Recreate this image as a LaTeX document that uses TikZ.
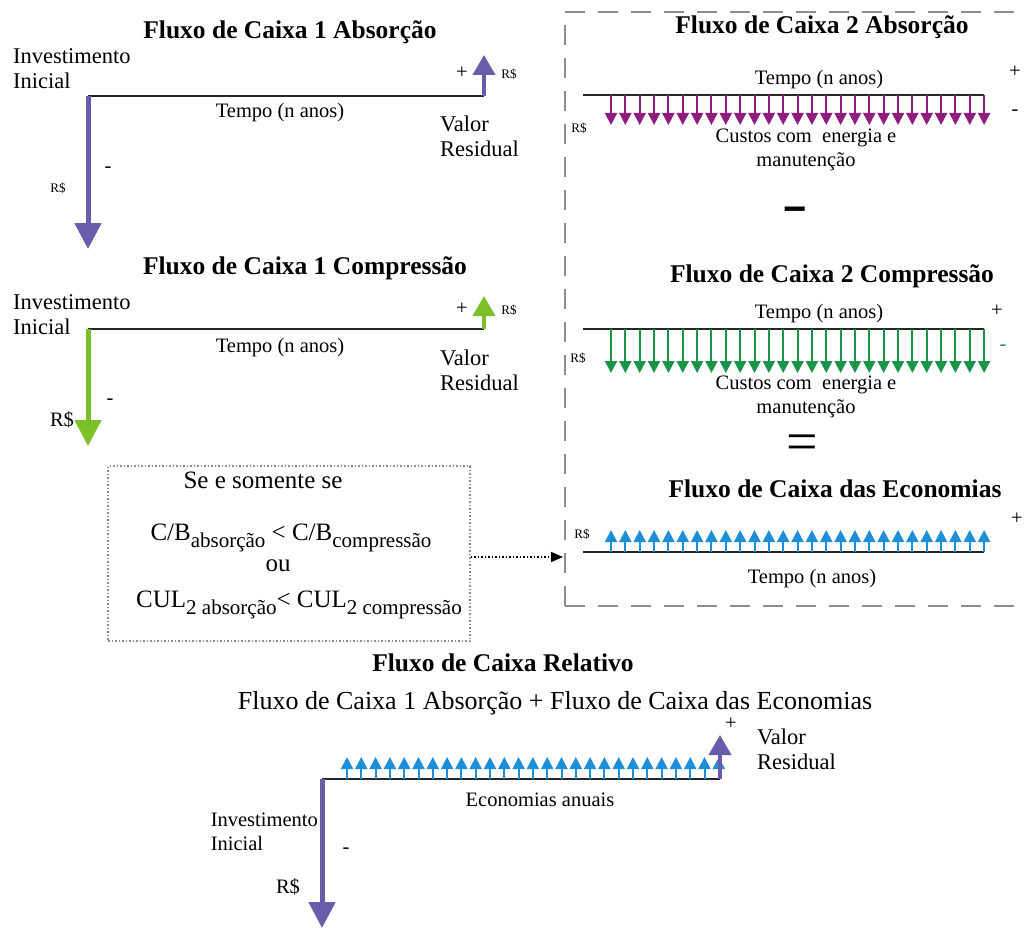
\documentclass[tikz,border=0pt]{standalone}
\usepackage{fontspec}
\setmainfont{Liberation Serif}
\newfontfamily\sansbold{Liberation Sans}
\usetikzlibrary{arrows.meta, positioning}

\definecolor{roxo}{HTML}{6A5CA8}
\definecolor{verdeclaro}{HTML}{7BBF2A}
\definecolor{magentaescuro}{HTML}{8F1D7F}
\definecolor{verdeescuro}{HTML}{1A9448}
\definecolor{azul}{HTML}{1D8FD8}
\definecolor{tracejado}{HTML}{8C8C8C}

\newcommand{\subtxt}[1]{\raisebox{-7pt}{\fontsize{21}{21}\selectfont #1}}

\tikzset{
  titulo/.style={font=\fontsize{25.5}{28}\selectfont\bfseries, inner sep=0pt},
  rotulo/.style={font=\fontsize{22.5}{25}\selectfont, align=left, inner sep=0pt},
  tempo/.style={font=\fontsize{20.5}{24}\selectfont, align=center, inner sep=0pt},
  caixatexto/.style={font=\fontsize{25}{28}\selectfont, inner sep=0pt},
  miudo/.style={font=\fontsize{13}{15}\selectfont, inner sep=0pt},
  eixo/.style={line width=2pt, draw=black!85},
  invest/.style={line width=5pt, -{Triangle[width=26pt,length=26pt]}},
  residual/.style={line width=4pt, -{Triangle[width=22pt,length=20pt]}},
  barra/.style={line width=2pt, -{Triangle[width=12pt,length=12pt]}},
}

\begin{document}
\begin{tikzpicture}[x=1pt, y=-1pt]
\useasboundingbox (0,0) rectangle (1027,928);

% caixa tracejada dos fluxos 2
\draw[tracejado, line width=2pt, dash pattern=on 20pt off 13pt] (565,606) -- (565,12) -- (1050,12);
\draw[tracejado, line width=2pt, dash pattern=on 20pt off 13pt] (565,606) -- (1050,606);

% Fluxo de Caixa 1 Absorcao
\node[titulo] (tit1) at (290,32) {Fluxo de Caixa 1 Absorção};
\coordinate (o1) at (88,96);
\coordinate (f1) at (484,96);
\coordinate (inv1) at (88,249);
\coordinate (res1) at (484,55);
\draw[eixo] (o1) -- (f1);
\draw[roxo, invest] (o1) -- (inv1);
\draw[roxo, residual] (f1) -- (res1);
\node[rotulo, anchor=west] (ini1) at (13,69) {Investimento\\Inicial};
\node[tempo] (tp1) at (280,113) {Tempo (n anos)};
\node[rotulo, anchor=west] (vr1) at (440,136) {Valor\\Residual};
\node[tempo] (mais1) at (462,73) {+};
\node[miudo] (rs1b) at (509,74) {R\$};
\node[tempo] (menos1) at (108,170) {-};
\node[miudo] (rs1a) at (58,188) {R\$};

% Fluxo de Caixa 1 Compressao
\node[titulo] (tit2) at (305,268) {Fluxo de Caixa 1 Compressão};
\coordinate (o2) at (88,329);
\coordinate (f2) at (484,329);
\coordinate (inv2) at (88,446);
\coordinate (res2) at (484,296);
\draw[eixo] (o2) -- (f2);
\draw[verdeclaro, invest] (o2) -- (inv2);
\draw[verdeclaro, residual] (f2) -- (res2);
\node[rotulo, anchor=west] (ini2) at (13,315) {Investimento\\Inicial};
\node[tempo] (tp2) at (280,348) {Tempo (n anos)};
\node[rotulo, anchor=west] (vr2) at (440,370) {Valor\\Residual};
\node[tempo] (mais2) at (462,309) {+};
\node[miudo] (rs2b) at (509,310) {R\$};
\node[tempo] (menos2) at (110,402) {-};
\node[tempo] (rs2a) at (62,420) {R\$};

% Fluxo de Caixa 2 Absorcao
\node[titulo] (tit3) at (822,27) {Fluxo de Caixa 2 Absorção};
\coordinate (o3) at (583,95);
\coordinate (f3) at (984,95);
\draw[eixo] (o3) -- (f3);
\foreach \i in {0,...,26}
  \draw[magentaescuro, barra] ({611+\i*14.35},95) -- ++(0,30);
\node[tempo] (tp3) at (819,80) {Tempo (n anos)};
\node[tempo] (mais3) at (1015,72) {+};
\node[tempo] (menos3) at (1015,113) {-};
\node[miudo] (rs3) at (579,128) {R\$};
\node[tempo] (custos3) at (806,150) {Custos com\ \ energia e\\manutenção};
\node[font=\sansbold\bfseries\fontsize{40}{40}\selectfont, inner sep=0pt] (subtrai) at (795,215) {−};

% Fluxo de Caixa 2 Compressao
\node[titulo] (tit4) at (832,276) {Fluxo de Caixa 2 Compressão};
\coordinate (o4) at (583,329);
\coordinate (f4) at (984,329);
\draw[eixo] (o4) -- (f4);
\foreach \i in {0,...,26}
  \draw[verdeescuro, barra] ({611+\i*14.35},329) -- ++(0,44);
\node[tempo] (tp4) at (819,314) {Tempo (n anos)};
\node[tempo] (mais4) at (997,311) {+};
\node[tempo, text=verdeescuro] (menos4) at (1003,348) {-};
\node[miudo] (rs4) at (578,358) {R\$};
\node[tempo] (custos4) at (806,397) {Custos com\ \ energia e\\manutenção};
\node[font=\fontsize{56}{56}\selectfont, inner sep=0pt] (igual) at (802,448) {=};

% Fluxo de Caixa das Economias
\node[titulo] (tit5) at (835,489) {Fluxo de Caixa das Economias};
\coordinate (o5) at (583,552);
\coordinate (f5) at (984,552);
\draw[eixo] (o5) -- (f5);
\foreach \i in {0,...,26}
  \draw[azul, barra] ({611+\i*14.35},552) -- ++(0,-22);
\node[tempo] (mais5) at (1017,519) {+};
\node[miudo] (rs5) at (582,534) {R\$};
\node[tempo] (tp5) at (812,579) {Tempo (n anos)};

% condicao
\node[draw=black!45, dotted, line width=1.5pt, minimum width=362pt, minimum height=175pt] (cond) at (289,553.5) {};
\node[caixatexto, anchor=base] (se) at (263,488) {Se e somente se};
\node[caixatexto, anchor=base] (cb) at (291,540) {C/B\subtxt{absorção} < C/B\subtxt{compressão}};
\node[caixatexto, anchor=base] (ou) at (278,571) {ou};
\node[caixatexto, anchor=base] (cul) at (299,607) {CUL\subtxt{2 absorção}< CUL\subtxt{2 compressão}};
\coordinate (alvo) at (563,557);
\draw[dotted, line width=1.5pt, -{Triangle[width=10pt,length=12pt]}] ([yshift=-3.5pt]cond.east) -- (alvo);

% Fluxo de Caixa Relativo
\node[titulo] (tit6) at (503,663) {Fluxo de Caixa Relativo};
\node[font=\fontsize{26}{28}\selectfont, inner sep=0pt] (soma) at (555,703) {Fluxo de Caixa 1 Absorção + Fluxo de Caixa das Economias};
\coordinate (o6) at (322,779);
\coordinate (f6) at (720,779);
\coordinate (inv6) at (322,928);
\coordinate (res6) at (720,735);
\draw[eixo] (o6) -- (f6);
\foreach \i in {0,...,26}
  \draw[azul, barra] ({347+\i*14.3},779) -- ++(0,-22);
\draw[roxo, invest] (o6) -- (inv6);
\draw[roxo, residual] (f6) -- (res6);
\node[tempo] (mais6) at (731,724) {+};
\node[rotulo, anchor=west] (vr6) at (757,749) {Valor\\Residual};
\node[tempo] (econ) at (540,800) {Economias anuais};
\node[tempo, align=left, anchor=east] (ini6) at (318,832) {Investimento\\Inicial};
\node[tempo] (menos6) at (346,851) {-};
\node[tempo] (rs6) at (288,887) {R\$};
\end{tikzpicture}
\end{document}
